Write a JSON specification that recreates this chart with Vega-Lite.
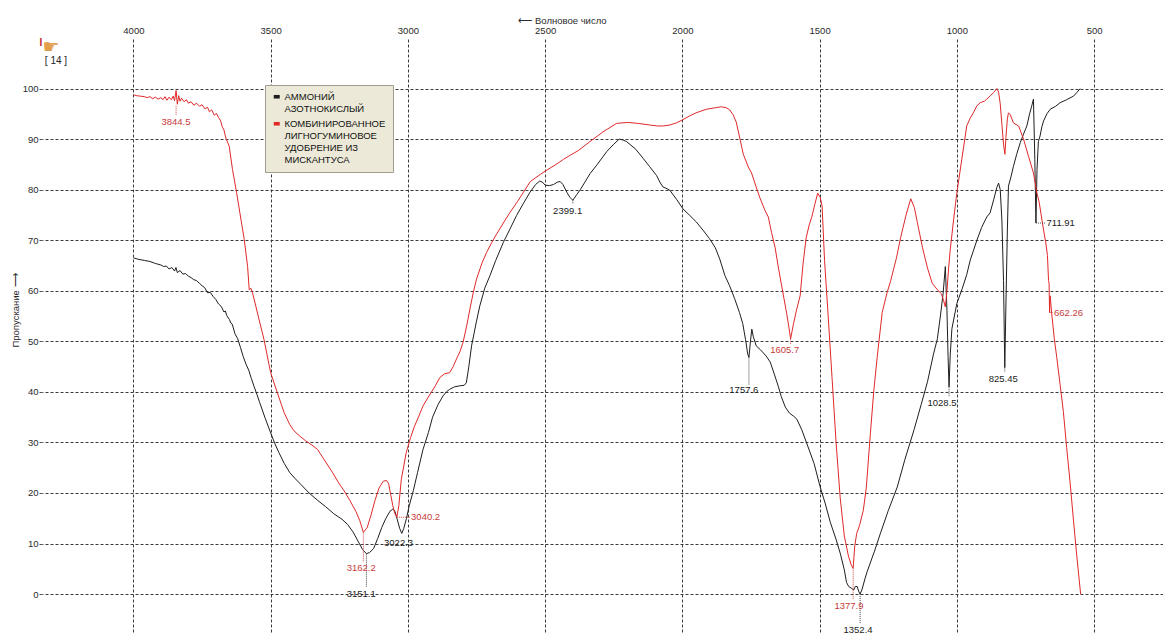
{
  "$schema": "https://vega.github.io/schema/vega-lite/v6.json",
  "width": 1121,
  "height": 594,
  "autosize": {"type": "none"},
  "padding": {"left": 42, "top": 38, "right": 0, "bottom": 3},
  "background": "white",
  "config": {
    "view": {"stroke": null},
    "font": "Liberation Sans",
    "text": {"font": "Liberation Sans"}
  },
  "datasets": {
    "spectra": [
      {"s":"ammonium","w":4000,"t":66.5},{"s":"ammonium","w":3980,"t":66.2},{"s":"ammonium","w":3960,"t":66.0},{"s":"ammonium","w":3940,"t":65.8},
      {"s":"ammonium","w":3920,"t":65.4},{"s":"ammonium","w":3900,"t":65.1},{"s":"ammonium","w":3890,"t":64.8},{"s":"ammonium","w":3880,"t":64.9},
      {"s":"ammonium","w":3870,"t":64.3},{"s":"ammonium","w":3860,"t":64.6},{"s":"ammonium","w":3850,"t":63.9},{"s":"ammonium","w":3845,"t":64.6},
      {"s":"ammonium","w":3840,"t":63.6},{"s":"ammonium","w":3830,"t":64.0},{"s":"ammonium","w":3820,"t":63.3},{"s":"ammonium","w":3810,"t":63.4},
      {"s":"ammonium","w":3800,"t":62.9},{"s":"ammonium","w":3790,"t":62.6},{"s":"ammonium","w":3780,"t":62.2},{"s":"ammonium","w":3770,"t":62.0},
      {"s":"ammonium","w":3760,"t":61.5},{"s":"ammonium","w":3750,"t":61.0},{"s":"ammonium","w":3740,"t":60.6},{"s":"ammonium","w":3730,"t":59.6},
      {"s":"ammonium","w":3720,"t":59.7},{"s":"ammonium","w":3710,"t":58.9},{"s":"ammonium","w":3700,"t":58.3},{"s":"ammonium","w":3690,"t":57.4},
      {"s":"ammonium","w":3680,"t":56.9},{"s":"ammonium","w":3670,"t":55.8},{"s":"ammonium","w":3665,"t":56.0},{"s":"ammonium","w":3660,"t":55.1},
      {"s":"ammonium","w":3650,"t":54.3},{"s":"ammonium","w":3645,"t":53.6},{"s":"ammonium","w":3640,"t":53.4},{"s":"ammonium","w":3630,"t":51.5},
      {"s":"ammonium","w":3620,"t":50.5},{"s":"ammonium","w":3610,"t":48.8},{"s":"ammonium","w":3600,"t":47.0},{"s":"ammonium","w":3590,"t":45.5},
      {"s":"ammonium","w":3580,"t":44.3},{"s":"ammonium","w":3570,"t":42.6},{"s":"ammonium","w":3560,"t":41.0},{"s":"ammonium","w":3550,"t":39.5},
      {"s":"ammonium","w":3540,"t":37.9},{"s":"ammonium","w":3520,"t":34.8},{"s":"ammonium","w":3500,"t":31.9},{"s":"ammonium","w":3485,"t":29.8},
      {"s":"ammonium","w":3470,"t":28.0},{"s":"ammonium","w":3450,"t":25.8},{"s":"ammonium","w":3430,"t":24.0},{"s":"ammonium","w":3410,"t":22.8},
      {"s":"ammonium","w":3390,"t":21.7},{"s":"ammonium","w":3360,"t":20.0},{"s":"ammonium","w":3330,"t":18.6},{"s":"ammonium","w":3300,"t":17.3},
      {"s":"ammonium","w":3270,"t":15.9},{"s":"ammonium","w":3240,"t":14.8},{"s":"ammonium","w":3220,"t":13.8},{"s":"ammonium","w":3200,"t":12.3},
      {"s":"ammonium","w":3180,"t":10.3},{"s":"ammonium","w":3165,"t":8.8},{"s":"ammonium","w":3151.1,"t":8.0},{"s":"ammonium","w":3140,"t":8.2},
      {"s":"ammonium","w":3125,"t":9.0},{"s":"ammonium","w":3110,"t":11.0},{"s":"ammonium","w":3095,"t":13.2},{"s":"ammonium","w":3080,"t":15.0},
      {"s":"ammonium","w":3065,"t":16.4},{"s":"ammonium","w":3055,"t":16.8},{"s":"ammonium","w":3048,"t":16.5},{"s":"ammonium","w":3040,"t":15.0},
      {"s":"ammonium","w":3030,"t":13.0},{"s":"ammonium","w":3022.3,"t":12.0},{"s":"ammonium","w":3015,"t":13.0},{"s":"ammonium","w":3005,"t":15.0},
      {"s":"ammonium","w":2995,"t":17.5},{"s":"ammonium","w":2980,"t":20.5},{"s":"ammonium","w":2965,"t":24.0},{"s":"ammonium","w":2945,"t":28.6},
      {"s":"ammonium","w":2925,"t":32.0},{"s":"ammonium","w":2910,"t":35.0},{"s":"ammonium","w":2890,"t":37.5},{"s":"ammonium","w":2872,"t":39.2},
      {"s":"ammonium","w":2860,"t":40.0},{"s":"ammonium","w":2848,"t":40.5},{"s":"ammonium","w":2830,"t":41.0},{"s":"ammonium","w":2811,"t":41.2},
      {"s":"ammonium","w":2795,"t":41.3},{"s":"ammonium","w":2787,"t":41.8},{"s":"ammonium","w":2778,"t":45.0},{"s":"ammonium","w":2768,"t":49.1},
      {"s":"ammonium","w":2750,"t":54.0},{"s":"ammonium","w":2738,"t":57.0},{"s":"ammonium","w":2720,"t":60.5},{"s":"ammonium","w":2701,"t":63.0},
      {"s":"ammonium","w":2680,"t":66.0},{"s":"ammonium","w":2652,"t":69.6},{"s":"ammonium","w":2630,"t":72.0},{"s":"ammonium","w":2604,"t":74.9},
      {"s":"ammonium","w":2580,"t":77.2},{"s":"ammonium","w":2555,"t":79.5},{"s":"ammonium","w":2535,"t":81.0},{"s":"ammonium","w":2520,"t":81.7},
      {"s":"ammonium","w":2510,"t":81.5},{"s":"ammonium","w":2500,"t":80.9},{"s":"ammonium","w":2485,"t":80.8},{"s":"ammonium","w":2470,"t":81.0},
      {"s":"ammonium","w":2455,"t":81.5},{"s":"ammonium","w":2445,"t":81.6},{"s":"ammonium","w":2435,"t":81.0},{"s":"ammonium","w":2421,"t":79.5},
      {"s":"ammonium","w":2410,"t":78.5},{"s":"ammonium","w":2399.1,"t":77.9},{"s":"ammonium","w":2385,"t":79.0},{"s":"ammonium","w":2372,"t":80.0},
      {"s":"ammonium","w":2355,"t":81.5},{"s":"ammonium","w":2336,"t":83.2},{"s":"ammonium","w":2310,"t":85.0},{"s":"ammonium","w":2276,"t":87.5},
      {"s":"ammonium","w":2250,"t":89.0},{"s":"ammonium","w":2230,"t":90.0},{"s":"ammonium","w":2215,"t":89.8},{"s":"ammonium","w":2203,"t":89.5},
      {"s":"ammonium","w":2170,"t":88.0},{"s":"ammonium","w":2143,"t":86.2},{"s":"ammonium","w":2120,"t":84.6},{"s":"ammonium","w":2094,"t":82.8},
      {"s":"ammonium","w":2080,"t":81.3},{"s":"ammonium","w":2070,"t":80.5},{"s":"ammonium","w":2060,"t":80.3},{"s":"ammonium","w":2046,"t":79.9},
      {"s":"ammonium","w":2020,"t":78.0},{"s":"ammonium","w":1998,"t":76.2},{"s":"ammonium","w":1975,"t":75.0},{"s":"ammonium","w":1949,"t":73.6},
      {"s":"ammonium","w":1925,"t":72.0},{"s":"ammonium","w":1901,"t":70.3},{"s":"ammonium","w":1880,"t":68.5},{"s":"ammonium","w":1864,"t":66.3},
      {"s":"ammonium","w":1845,"t":63.0},{"s":"ammonium","w":1828,"t":61.0},{"s":"ammonium","w":1810,"t":58.5},{"s":"ammonium","w":1792,"t":55.7},
      {"s":"ammonium","w":1780,"t":53.5},{"s":"ammonium","w":1770,"t":50.4},{"s":"ammonium","w":1762,"t":47.5},{"s":"ammonium","w":1757.6,"t":46.8},
      {"s":"ammonium","w":1752,"t":50.0},{"s":"ammonium","w":1747,"t":52.4},{"s":"ammonium","w":1742,"t":51.0},{"s":"ammonium","w":1731,"t":49.1},
      {"s":"ammonium","w":1715,"t":48.3},{"s":"ammonium","w":1695,"t":47.1},{"s":"ammonium","w":1680,"t":45.9},{"s":"ammonium","w":1665,"t":43.5},
      {"s":"ammonium","w":1650,"t":41.0},{"s":"ammonium","w":1640,"t":39.1},{"s":"ammonium","w":1625,"t":37.0},{"s":"ammonium","w":1610,"t":35.8},
      {"s":"ammonium","w":1595,"t":35.2},{"s":"ammonium","w":1583,"t":34.6},{"s":"ammonium","w":1565,"t":32.5},{"s":"ammonium","w":1546,"t":29.7},
      {"s":"ammonium","w":1520,"t":25.8},{"s":"ammonium","w":1498,"t":21.2},{"s":"ammonium","w":1480,"t":18.0},{"s":"ammonium","w":1461,"t":14.2},
      {"s":"ammonium","w":1440,"t":10.8},{"s":"ammonium","w":1424,"t":7.9},{"s":"ammonium","w":1410,"t":4.8},{"s":"ammonium","w":1402,"t":2.3},
      {"s":"ammonium","w":1394,"t":1.5},{"s":"ammonium","w":1385,"t":1.2},{"s":"ammonium","w":1376,"t":0.8},{"s":"ammonium","w":1370,"t":1.5},
      {"s":"ammonium","w":1363,"t":1.5},{"s":"ammonium","w":1358,"t":0.6},{"s":"ammonium","w":1352.4,"t":0.0},{"s":"ammonium","w":1345,"t":1.0},
      {"s":"ammonium","w":1335,"t":3.0},{"s":"ammonium","w":1327,"t":4.4},{"s":"ammonium","w":1300,"t":8.5},{"s":"ammonium","w":1278,"t":12.1},
      {"s":"ammonium","w":1250,"t":16.5},{"s":"ammonium","w":1217,"t":21.2},{"s":"ammonium","w":1190,"t":26.5},{"s":"ammonium","w":1156,"t":32.5},
      {"s":"ammonium","w":1130,"t":37.5},{"s":"ammonium","w":1107,"t":42.0},{"s":"ammonium","w":1085,"t":47.5},{"s":"ammonium","w":1071,"t":50.5},
      {"s":"ammonium","w":1060,"t":55.0},{"s":"ammonium","w":1050,"t":59.5},{"s":"ammonium","w":1042,"t":64.8},{"s":"ammonium","w":1036,"t":56.0},
      {"s":"ammonium","w":1032,"t":47.0},{"s":"ammonium","w":1028.5,"t":41.0},{"s":"ammonium","w":1024,"t":47.5},{"s":"ammonium","w":1018,"t":52.5},
      {"s":"ammonium","w":1000,"t":57.5},{"s":"ammonium","w":980,"t":60.5},{"s":"ammonium","w":964,"t":63.2},{"s":"ammonium","w":951,"t":66.1},
      {"s":"ammonium","w":927,"t":70.0},{"s":"ammonium","w":910,"t":72.5},{"s":"ammonium","w":891,"t":74.6},{"s":"ammonium","w":879,"t":75.4},
      {"s":"ammonium","w":866,"t":78.0},{"s":"ammonium","w":854,"t":80.5},{"s":"ammonium","w":848,"t":81.3},{"s":"ammonium","w":842,"t":80.0},
      {"s":"ammonium","w":836,"t":74.0},{"s":"ammonium","w":830,"t":62.0},{"s":"ammonium","w":825.45,"t":44.8},{"s":"ammonium","w":821,"t":58.0},
      {"s":"ammonium","w":816,"t":72.0},{"s":"ammonium","w":812,"t":80.7},{"s":"ammonium","w":803,"t":82.5},{"s":"ammonium","w":794,"t":84.6},
      {"s":"ammonium","w":782,"t":87.0},{"s":"ammonium","w":769,"t":89.3},{"s":"ammonium","w":757,"t":91.0},{"s":"ammonium","w":745,"t":92.6},
      {"s":"ammonium","w":735,"t":95.0},{"s":"ammonium","w":727,"t":96.6},{"s":"ammonium","w":721,"t":97.9},{"s":"ammonium","w":716,"t":86.0},
      {"s":"ammonium","w":711.91,"t":73.4},{"s":"ammonium","w":708,"t":84.0},{"s":"ammonium","w":703,"t":89.5},{"s":"ammonium","w":697,"t":90.6},
      {"s":"ammonium","w":690,"t":92.5},{"s":"ammonium","w":684,"t":93.6},{"s":"ammonium","w":672,"t":95.0},{"s":"ammonium","w":660,"t":95.9},
      {"s":"ammonium","w":640,"t":96.5},{"s":"ammonium","w":624,"t":97.2},{"s":"ammonium","w":600,"t":97.8},{"s":"ammonium","w":575,"t":98.5},
      {"s":"ammonium","w":563,"t":99.2},{"s":"ammonium","w":551,"t":100.0},

      {"s":"fertilizer","w":4000,"t":98.8},{"s":"fertilizer","w":3990,"t":98.6},{"s":"fertilizer","w":3975,"t":98.5},{"s":"fertilizer","w":3960,"t":98.4},
      {"s":"fertilizer","w":3950,"t":98.2},{"s":"fertilizer","w":3940,"t":98.4},{"s":"fertilizer","w":3930,"t":98.0},{"s":"fertilizer","w":3920,"t":98.3},
      {"s":"fertilizer","w":3910,"t":97.9},{"s":"fertilizer","w":3900,"t":98.2},{"s":"fertilizer","w":3892,"t":97.8},{"s":"fertilizer","w":3885,"t":98.4},
      {"s":"fertilizer","w":3878,"t":97.7},{"s":"fertilizer","w":3870,"t":98.3},{"s":"fertilizer","w":3862,"t":97.8},{"s":"fertilizer","w":3855,"t":98.5},
      {"s":"fertilizer","w":3850,"t":97.6},{"s":"fertilizer","w":3844.5,"t":99.6},{"s":"fertilizer","w":3840,"t":96.9},{"s":"fertilizer","w":3835,"t":98.6},
      {"s":"fertilizer","w":3830,"t":97.5},{"s":"fertilizer","w":3825,"t":98.1},{"s":"fertilizer","w":3815,"t":97.4},{"s":"fertilizer","w":3807,"t":97.8},
      {"s":"fertilizer","w":3800,"t":97.1},{"s":"fertilizer","w":3790,"t":97.4},{"s":"fertilizer","w":3780,"t":96.7},{"s":"fertilizer","w":3770,"t":97.1},
      {"s":"fertilizer","w":3759,"t":96.5},{"s":"fertilizer","w":3750,"t":96.8},{"s":"fertilizer","w":3740,"t":96.0},{"s":"fertilizer","w":3730,"t":96.3},
      {"s":"fertilizer","w":3723,"t":95.4},{"s":"fertilizer","w":3715,"t":95.8},{"s":"fertilizer","w":3705,"t":94.7},{"s":"fertilizer","w":3698,"t":95.1},
      {"s":"fertilizer","w":3690,"t":94.3},{"s":"fertilizer","w":3682,"t":93.6},{"s":"fertilizer","w":3677,"t":92.5},{"s":"fertilizer","w":3670,"t":91.8},
      {"s":"fertilizer","w":3663,"t":90.2},{"s":"fertilizer","w":3651,"t":88.6},{"s":"fertilizer","w":3639,"t":84.0},{"s":"fertilizer","w":3624,"t":79.4},
      {"s":"fertilizer","w":3612,"t":75.4},{"s":"fertilizer","w":3596,"t":70.1},{"s":"fertilizer","w":3584,"t":64.8},{"s":"fertilizer","w":3578,"t":60.2},
      {"s":"fertilizer","w":3572,"t":60.5},{"s":"fertilizer","w":3566,"t":59.6},{"s":"fertilizer","w":3548,"t":55.6},{"s":"fertilizer","w":3524,"t":50.3},
      {"s":"fertilizer","w":3500,"t":43.8},{"s":"fertilizer","w":3476,"t":39.9},{"s":"fertilizer","w":3451,"t":35.9},{"s":"fertilizer","w":3430,"t":33.5},
      {"s":"fertilizer","w":3415,"t":32.3},{"s":"fertilizer","w":3395,"t":31.3},{"s":"fertilizer","w":3372,"t":30.3},{"s":"fertilizer","w":3350,"t":29.5},
      {"s":"fertilizer","w":3329,"t":28.6},{"s":"fertilizer","w":3305,"t":26.6},{"s":"fertilizer","w":3274,"t":24.0},{"s":"fertilizer","w":3250,"t":21.8},
      {"s":"fertilizer","w":3232,"t":20.4},{"s":"fertilizer","w":3210,"t":18.4},{"s":"fertilizer","w":3189,"t":16.3},{"s":"fertilizer","w":3175,"t":14.5},
      {"s":"fertilizer","w":3162.2,"t":12.2},{"s":"fertilizer","w":3148,"t":13.2},{"s":"fertilizer","w":3135,"t":15.5},{"s":"fertilizer","w":3120,"t":18.5},
      {"s":"fertilizer","w":3105,"t":21.0},{"s":"fertilizer","w":3090,"t":22.3},{"s":"fertilizer","w":3078,"t":22.5},{"s":"fertilizer","w":3070,"t":21.8},
      {"s":"fertilizer","w":3062,"t":19.5},{"s":"fertilizer","w":3055,"t":17.5},{"s":"fertilizer","w":3048,"t":16.0},{"s":"fertilizer","w":3040.2,"t":15.2},
      {"s":"fertilizer","w":3033,"t":17.5},{"s":"fertilizer","w":3024,"t":22.7},{"s":"fertilizer","w":3006,"t":28.0},{"s":"fertilizer","w":2990,"t":31.0},
      {"s":"fertilizer","w":2976,"t":33.2},{"s":"fertilizer","w":2960,"t":35.2},{"s":"fertilizer","w":2945,"t":37.2},{"s":"fertilizer","w":2930,"t":38.6},
      {"s":"fertilizer","w":2915,"t":39.9},{"s":"fertilizer","w":2900,"t":41.2},{"s":"fertilizer","w":2884,"t":42.8},{"s":"fertilizer","w":2866,"t":43.6},
      {"s":"fertilizer","w":2848,"t":43.8},{"s":"fertilizer","w":2835,"t":45.0},{"s":"fertilizer","w":2823,"t":46.5},{"s":"fertilizer","w":2810,"t":48.0},
      {"s":"fertilizer","w":2799,"t":49.8},{"s":"fertilizer","w":2786,"t":53.0},{"s":"fertilizer","w":2774,"t":56.4},{"s":"fertilizer","w":2762,"t":59.6},
      {"s":"fertilizer","w":2750,"t":62.3},{"s":"fertilizer","w":2730,"t":65.5},{"s":"fertilizer","w":2713,"t":67.6},{"s":"fertilizer","w":2695,"t":69.5},
      {"s":"fertilizer","w":2677,"t":71.2},{"s":"fertilizer","w":2650,"t":73.6},{"s":"fertilizer","w":2628,"t":75.5},{"s":"fertilizer","w":2600,"t":77.7},
      {"s":"fertilizer","w":2579,"t":79.5},{"s":"fertilizer","w":2554,"t":81.6},{"s":"fertilizer","w":2518,"t":83.0},{"s":"fertilizer","w":2490,"t":84.0},
      {"s":"fertilizer","w":2457,"t":85.1},{"s":"fertilizer","w":2433,"t":86.0},{"s":"fertilizer","w":2409,"t":86.8},{"s":"fertilizer","w":2380,"t":87.7},
      {"s":"fertilizer","w":2337,"t":89.5},{"s":"fertilizer","w":2290,"t":91.4},{"s":"fertilizer","w":2240,"t":93.1},{"s":"fertilizer","w":2200,"t":93.3},
      {"s":"fertilizer","w":2160,"t":93.1},{"s":"fertilizer","w":2120,"t":92.8},{"s":"fertilizer","w":2090,"t":92.6},{"s":"fertilizer","w":2070,"t":92.6},
      {"s":"fertilizer","w":2045,"t":92.8},{"s":"fertilizer","w":2022,"t":93.2},{"s":"fertilizer","w":2000,"t":93.8},{"s":"fertilizer","w":1973,"t":94.6},
      {"s":"fertilizer","w":1950,"t":95.2},{"s":"fertilizer","w":1913,"t":95.9},{"s":"fertilizer","w":1880,"t":96.2},{"s":"fertilizer","w":1858,"t":96.4},
      {"s":"fertilizer","w":1840,"t":96.2},{"s":"fertilizer","w":1828,"t":95.8},{"s":"fertilizer","w":1815,"t":94.8},{"s":"fertilizer","w":1804,"t":93.4},
      {"s":"fertilizer","w":1790,"t":90.0},{"s":"fertilizer","w":1778,"t":87.0},{"s":"fertilizer","w":1760,"t":84.5},{"s":"fertilizer","w":1748,"t":83.3},
      {"s":"fertilizer","w":1731,"t":80.5},{"s":"fertilizer","w":1717,"t":78.3},{"s":"fertilizer","w":1700,"t":76.0},{"s":"fertilizer","w":1687,"t":74.6},
      {"s":"fertilizer","w":1675,"t":71.5},{"s":"fertilizer","w":1662,"t":68.5},{"s":"fertilizer","w":1650,"t":64.5},{"s":"fertilizer","w":1640,"t":61.5},
      {"s":"fertilizer","w":1630,"t":58.5},{"s":"fertilizer","w":1620,"t":55.5},{"s":"fertilizer","w":1612,"t":52.8},{"s":"fertilizer","w":1605.7,"t":50.5},
      {"s":"fertilizer","w":1595,"t":53.5},{"s":"fertilizer","w":1585,"t":56.0},{"s":"fertilizer","w":1571,"t":59.0},{"s":"fertilizer","w":1560,"t":65.5},
      {"s":"fertilizer","w":1549,"t":70.5},{"s":"fertilizer","w":1538,"t":73.0},{"s":"fertilizer","w":1528,"t":74.7},{"s":"fertilizer","w":1518,"t":77.0},
      {"s":"fertilizer","w":1507,"t":79.3},{"s":"fertilizer","w":1498,"t":78.5},{"s":"fertilizer","w":1491,"t":76.8},{"s":"fertilizer","w":1482,"t":66.0},
      {"s":"fertilizer","w":1470,"t":56.0},{"s":"fertilizer","w":1455,"t":43.0},{"s":"fertilizer","w":1440,"t":30.0},{"s":"fertilizer","w":1425,"t":19.0},
      {"s":"fertilizer","w":1410,"t":11.5},{"s":"fertilizer","w":1395,"t":7.5},{"s":"fertilizer","w":1385,"t":5.8},{"s":"fertilizer","w":1377.9,"t":5.1},
      {"s":"fertilizer","w":1372,"t":9.5},{"s":"fertilizer","w":1365,"t":12.0},{"s":"fertilizer","w":1355,"t":13.5},{"s":"fertilizer","w":1341,"t":16.5},
      {"s":"fertilizer","w":1330,"t":21.0},{"s":"fertilizer","w":1315,"t":31.8},{"s":"fertilizer","w":1303,"t":40.0},{"s":"fertilizer","w":1290,"t":47.0},
      {"s":"fertilizer","w":1272,"t":55.7},{"s":"fertilizer","w":1255,"t":59.5},{"s":"fertilizer","w":1241,"t":62.0},{"s":"fertilizer","w":1220,"t":66.5},
      {"s":"fertilizer","w":1205,"t":70.5},{"s":"fertilizer","w":1185,"t":75.0},{"s":"fertilizer","w":1168,"t":78.2},{"s":"fertilizer","w":1155,"t":76.5},
      {"s":"fertilizer","w":1144,"t":73.5},{"s":"fertilizer","w":1125,"t":68.5},{"s":"fertilizer","w":1107,"t":64.5},{"s":"fertilizer","w":1090,"t":61.5},
      {"s":"fertilizer","w":1071,"t":60.2},{"s":"fertilizer","w":1056,"t":59.4},{"s":"fertilizer","w":1048,"t":58.0},{"s":"fertilizer","w":1042,"t":56.8},
      {"s":"fertilizer","w":1036,"t":60.0},{"s":"fertilizer","w":1030,"t":64.5},{"s":"fertilizer","w":1024,"t":68.2},{"s":"fertilizer","w":1012,"t":74.0},
      {"s":"fertilizer","w":1000,"t":79.4},{"s":"fertilizer","w":982,"t":86.0},{"s":"fertilizer","w":964,"t":92.6},{"s":"fertilizer","w":951,"t":94.2},
      {"s":"fertilizer","w":940,"t":95.2},{"s":"fertilizer","w":927,"t":96.6},{"s":"fertilizer","w":915,"t":97.2},{"s":"fertilizer","w":900,"t":97.5},
      {"s":"fertilizer","w":891,"t":97.9},{"s":"fertilizer","w":878,"t":98.6},{"s":"fertilizer","w":866,"t":99.2},{"s":"fertilizer","w":854,"t":100.0},
      {"s":"fertilizer","w":848,"t":99.3},{"s":"fertilizer","w":842,"t":97.0},{"s":"fertilizer","w":836,"t":93.0},{"s":"fertilizer","w":830,"t":89.0},
      {"s":"fertilizer","w":825,"t":87.0},{"s":"fertilizer","w":821,"t":90.5},{"s":"fertilizer","w":816,"t":94.0},{"s":"fertilizer","w":812,"t":95.2},
      {"s":"fertilizer","w":805,"t":94.8},{"s":"fertilizer","w":794,"t":93.2},{"s":"fertilizer","w":775,"t":92.6},{"s":"fertilizer","w":757,"t":90.0},
      {"s":"fertilizer","w":739,"t":86.6},{"s":"fertilizer","w":721,"t":83.3},{"s":"fertilizer","w":709,"t":79.5},{"s":"fertilizer","w":700,"t":77.5},
      {"s":"fertilizer","w":690,"t":74.0},{"s":"fertilizer","w":684,"t":72.0},{"s":"fertilizer","w":676,"t":69.5},{"s":"fertilizer","w":670,"t":67.0},
      {"s":"fertilizer","w":666,"t":62.0},{"s":"fertilizer","w":664,"t":61.5},{"s":"fertilizer","w":662.26,"t":55.7},{"s":"fertilizer","w":660,"t":59.0},
      {"s":"fertilizer","w":655,"t":55.8},{"s":"fertilizer","w":645,"t":50.5},{"s":"fertilizer","w":636,"t":46.8},{"s":"fertilizer","w":624,"t":41.5},
      {"s":"fertilizer","w":612,"t":36.1},{"s":"fertilizer","w":600,"t":29.0},{"s":"fertilizer","w":587,"t":21.8},{"s":"fertilizer","w":575,"t":14.5},
      {"s":"fertilizer","w":563,"t":7.5},{"s":"fertilizer","w":549,"t":0.0}
    ],
    "peaksBelow": [
      {"s":"fertilizer","pw":3844.5,"y1":96.6,"y2":94.7,"lw":3845,"lt":93.3,"txt":"3844.5"},
      {"s":"fertilizer","pw":3162.2,"y1":12.2,"y2":6.4,"lw":3170,"lt":5.1,"txt":"3162.2"},
      {"s":"ammonium","pw":3151.1,"y1":8.0,"y2":1.3,"lw":3170,"lt":0.0,"txt":"3151.1"},
      {"s":"ammonium","pw":3022.3,"y1":12.0,"y2":12.0,"lw":3034,"lt":10.1,"txt":"3022.3"},
      {"s":"ammonium","pw":2399.1,"y1":77.9,"y2":77.2,"lw":2418,"lt":75.8,"txt":"2399.1"},
      {"s":"ammonium","pw":1757.6,"y1":46.8,"y2":41.4,"lw":1776,"lt":40.3,"txt":"1757.6"},
      {"s":"fertilizer","pw":1605.7,"y1":50.5,"y2":49.4,"lw":1627,"lt":48.2,"txt":"1605.7"},
      {"s":"fertilizer","pw":1377.9,"y1":5.1,"y2":-1.0,"lw":1393,"lt":-2.3,"txt":"1377.9"},
      {"s":"ammonium","pw":1352.4,"y1":0.0,"y2":-5.8,"lw":1360,"lt":-7.1,"txt":"1352.4"},
      {"s":"ammonium","pw":1028.5,"y1":41.0,"y2":39.0,"lw":1054,"lt":37.8,"txt":"1028.5"},
      {"s":"ammonium","pw":825.45,"y1":44.8,"y2":43.9,"lw":831,"lt":42.5,"txt":"825.45"}
    ],
    "peaksRight": [
      {"s":"fertilizer","pw":3040.2,"pt":15.2,"lw":2992,"txt":"3040.2"},
      {"s":"ammonium","pw":711.91,"pt":73.4,"lw":677,"txt":"711.91"},
      {"s":"fertilizer","pw":662.26,"pt":55.7,"lw":650,"txt":"662.26"}
    ],
    "badge": [
      {"w":4282,"t":105.5,"txt":"[ 14 ]"}
    ]
  },
  "layer": [
    {
      "data": {"name": "spectra"},
      "mark": {"type": "line", "strokeWidth": 1, "interpolate": "linear"},
      "encoding": {
        "x": {
          "field": "w", "type": "quantitative",
          "scale": {"domain": [249, 4333], "reverse": true, "nice": false, "zero": false},
          "axis": {
            "orient": "top",
            "values": [4000, 3500, 3000, 2500, 2000, 1500, 1000, 500],
            "format": "d",
            "grid": true, "gridDash": [3, 2], "gridColor": "#3a3a3a", "gridWidth": 1,
            "domain": false, "ticks": false,
            "labelPadding": 3, "labelFontSize": 9.5, "labelColor": "#2a2a2a", "labelFont": "Liberation Sans",
            "title": "⟵ Волновое число",
            "titleFont": "Liberation Sans", "titleFontWeight": "normal", "titleFontSize": 9.5, "titleColor": "#2a2a2a",
            "titleX": 520, "titleY": -18, "titleAlign": "center", "titleBaseline": "middle"
          }
        },
        "y": {
          "field": "t", "type": "quantitative",
          "scale": {"domain": [-7.5, 110], "nice": false, "zero": false},
          "axis": {
            "values": [0, 10, 20, 30, 40, 50, 60, 70, 80, 90, 100],
            "format": "d",
            "grid": true, "gridDash": [3, 2], "gridColor": "#3a3a3a", "gridWidth": 1,
            "domain": false, "tickSize": 3, "tickColor": "#555", "labelPadding": 1,
            "labelFontSize": 9.5, "labelColor": "#2a2a2a", "labelFont": "Liberation Sans",
            "title": "Пропускание ⟶",
            "titleFont": "Liberation Sans", "titleFontWeight": "normal", "titleFontSize": 9.5, "titleColor": "#2a2a2a",
            "titleX": -27, "titleY": 272, "titleAngle": -90, "titleAlign": "center", "titleBaseline": "middle"
          }
        },
        "color": {
          "field": "s", "type": "nominal",
          "scale": {"domain": ["ammonium", "fertilizer"], "range": ["#1e1e1e", "#e02828"]},
          "legend": {
            "orient": "none", "legendX": 223, "legendY": 47,
            "title": null, "padding": 7,
            "fillColor": "#ece9d8", "strokeColor": "#a19d8e",
            "symbolType": "M-1,-0.6H1V0.6H-1Z", "symbolSize": 36, "symbolStrokeWidth": 0,
            "labelFont": "Liberation Sans", "labelFontSize": 9.5, "labelColor": "#111",
            "labelLimit": 0, "labelOffset": 3, "rowPadding": 5, "labelBaseline": "top",
            "labelExpr": "datum.value == 'ammonium' ? ['АММОНИЙ', 'АЗОТНОКИСЛЫЙ'] : ['КОМБИНИРОВАННОЕ\u00a0\u00a0\u00a0\u00a0\u00a0\u00a0\u00a0', 'ЛИГНОГУМИНОВОЕ', 'УДОБРЕНИЕ ИЗ', 'МИСКАНТУСА']",
            "encode": {
              "labels": {"update": {"lineHeight": {"value": 12}, "dy": {"value": -4.5}}},
              "symbols": {"update": {"fill": {"scale": "color", "field": "value"}, "stroke": {"value": "transparent"}}}
            }
          }
        }
      }
    },
    {
      "data": {"name": "peaksBelow"},
      "mark": {"type": "rule", "strokeWidth": 1, "strokeDash": [1, 1]},
      "encoding": {
        "x": {"field": "pw", "type": "quantitative"},
        "y": {"field": "y1", "type": "quantitative"},
        "y2": {"field": "y2"},
        "color": {"condition": {"test": "datum.s == 'fertilizer'", "value": "#c84848"}, "value": "#444"}
      }
    },
    {
      "data": {"name": "peaksRight"},
      "mark": {"type": "rule", "strokeWidth": 1, "strokeDash": [1, 1]},
      "encoding": {
        "x": {"field": "pw", "type": "quantitative"},
        "x2": {"field": "lw"},
        "y": {"field": "pt", "type": "quantitative"},
        "color": {"condition": {"test": "datum.s == 'fertilizer'", "value": "#c84848"}, "value": "#444"}
      }
    },
    {
      "data": {"name": "peaksBelow"},
      "mark": {"type": "text", "align": "center", "baseline": "middle", "fontSize": 9.5, "font": "Liberation Sans"},
      "encoding": {
        "x": {"field": "lw", "type": "quantitative"},
        "y": {"field": "lt", "type": "quantitative"},
        "text": {"field": "txt"},
        "color": {"condition": {"test": "datum.s == 'fertilizer'", "value": "#c83c3c"}, "value": "#222"}
      }
    },
    {
      "data": {"name": "peaksRight"},
      "mark": {"type": "text", "align": "left", "baseline": "middle", "fontSize": 9.5, "font": "Liberation Sans", "dx": 1},
      "encoding": {
        "x": {"field": "lw", "type": "quantitative"},
        "y": {"field": "pt", "type": "quantitative"},
        "text": {"field": "txt"},
        "color": {"condition": {"test": "datum.s == 'fertilizer'", "value": "#c83c3c"}, "value": "#222"}
      }
    },
    {
      "data": {"name": "badge"},
      "mark": {"type": "text", "align": "center", "baseline": "middle", "fontSize": 10, "font": "Liberation Sans", "color": "#222"},
      "encoding": {
        "x": {"field": "w", "type": "quantitative"},
        "y": {"field": "t", "type": "quantitative"},
        "text": {"field": "txt"}
      }
    },
    {
      "data": {"name": "badge"},
      "mark": {"type": "text", "align": "center", "baseline": "middle", "fontSize": 19, "font": "DejaVu Sans", "color": "#e3a04c", "dy": -14, "dx": -5},
      "encoding": {
        "x": {"field": "w", "type": "quantitative"},
        "y": {"field": "t", "type": "quantitative"},
        "text": {"value": "☛"}
      }
    },
    {
      "data": {"name": "badge"},
      "mark": {"type": "text", "align": "center", "baseline": "middle", "fontSize": 10, "fontWeight": "bold", "font": "Liberation Sans", "color": "#c0282c", "dy": -18, "dx": -15},
      "encoding": {
        "x": {"field": "w", "type": "quantitative"},
        "y": {"field": "t", "type": "quantitative"},
        "text": {"value": "I"}
      }
    }
  ]
}
